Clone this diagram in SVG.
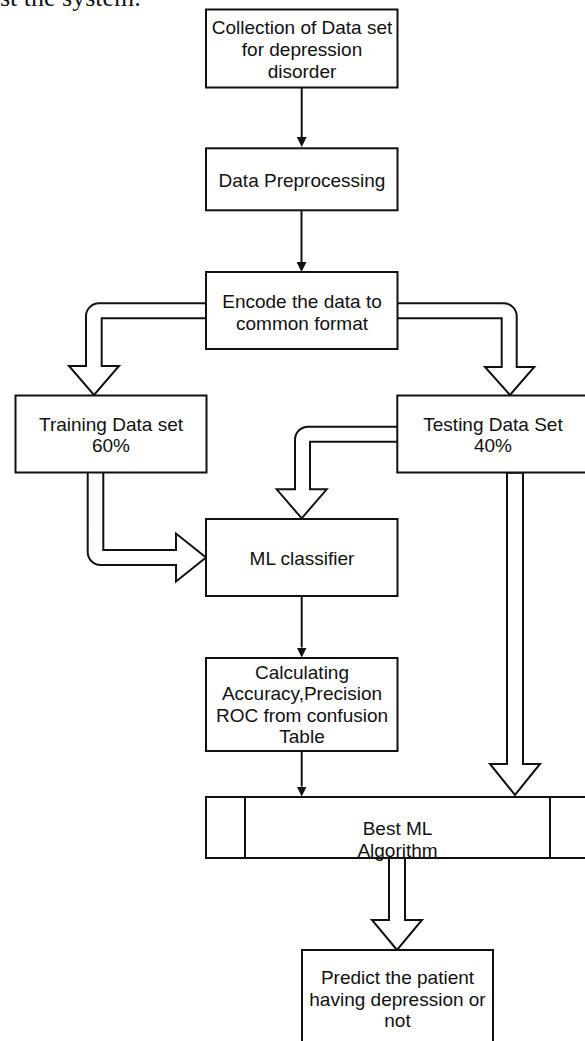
<svg xmlns="http://www.w3.org/2000/svg" width="585" height="1041" viewBox="0 0 585 1041">
<style>
.box{fill:#fff;stroke:#111;stroke-width:2}
.t{font-family:"Liberation Sans",Arial,sans-serif;font-size:19px;fill:#111;text-anchor:middle}
.thin{fill:none;stroke:#111;stroke-width:2}
.block{fill:#fff;stroke:#111;stroke-width:2;stroke-linejoin:miter}
</style>
<defs>
<marker id="ah" viewBox="0 0 10 10" refX="0" refY="5" markerWidth="10" markerHeight="10" markerUnits="userSpaceOnUse" orient="auto">
<path d="M0,0 L10,5 L0,10 z" fill="#111"/>
</marker>
</defs>
<rect width="585" height="1041" fill="#fff"/>
<text x="0" y="6" font-family="Liberation Serif,serif" font-size="26" fill="#111">st the system.</text>

<g id="connectors">
<path class="thin" d="M301.7,87.5 V137" marker-end="url(#ah)"/>
<path class="thin" d="M301.5,210.5 V262" marker-end="url(#ah)"/>
<path class="thin" d="M301.7,596 V647.5" marker-end="url(#ah)"/>
<path class="thin" d="M301.7,751 V786.5" marker-end="url(#ah)"/>
<path class="block" d="M206,303.3 H99 A13,13 0 0 0 86,316.3 V366 H69 L94,395 L119,366 H101.7 V318.3 H206"/>
<path class="block" d="M397.3,303.3 H503.7 A13,13 0 0 1 516.7,316.3 V367 H534.3 L510,395 L485,367 H501.7 V318.3 H397.3"/>
<path class="block" d="M87.7,472.7 V552 A13,13 0 0 0 100.7,565 H176 V581.5 L206,557.5 L176,533.5 V550 H103.3 V472.7"/>
<path class="block" d="M397.3,426.7 H308 A13,13 0 0 0 295,439.7 V489.3 H276.7 L301.7,518.3 L326.7,489.3 H310 V441.7 H397.3"/>
<path class="block" d="M507,472.7 V764 H490 L515,795 L540,764 H523 V472.7 Z"/>
<path class="block" d="M389,858 V920 H372 L397,950 L422,920 H405 V858"/>
</g>

<g id="n1">
<rect class="box" x="206" y="9.5" width="191.5" height="78"/>
<text class="t" x="302" y="33.5">Collection of Data set</text>
<text class="t" x="302" y="55.5">for depression</text>
<text class="t" x="302" y="77.5">disorder</text>
</g>
<g id="n2">
<rect class="box" x="206" y="148.3" width="191.5" height="62"/>
<text class="t" x="302" y="187">Data Preprocessing</text>
</g>
<g id="n3">
<rect class="box" x="206" y="272" width="191.5" height="77"/>
<text class="t" x="302" y="307.5">Encode the data to</text>
<text class="t" x="302" y="329.5">common format</text>
</g>
<g id="n4">
<rect class="box" x="15.5" y="395.5" width="191" height="77"/>
<text class="t" x="111" y="430.5">Training Data set</text>
<text class="t" x="111" y="452">60%</text>
</g>
<g id="n5">
<rect class="box" x="397.3" y="395.5" width="192" height="77"/>
<text class="t" x="493" y="430.5">Testing Data Set</text>
<text class="t" x="493" y="452">40%</text>
</g>
<g id="n6">
<rect class="box" x="206" y="519" width="191.5" height="77"/>
<text class="t" x="302" y="564.5">ML classifier</text>
</g>
<g id="n7">
<rect class="box" x="206" y="658" width="191.5" height="93"/>
<text class="t" x="302" y="678.5">Calculating</text>
<text class="t" x="302" y="700">Accuracy,Precision</text>
<text class="t" x="302" y="721.5">ROC from confusion</text>
<text class="t" x="302" y="743">Table</text>
</g>
<g id="n8">
<rect class="box" x="206" y="797" width="383" height="61"/>
<line class="thin" x1="245" y1="797" x2="245" y2="858"/>
<line class="thin" x1="550" y1="797" x2="550" y2="858"/>
<text class="t" x="397.5" y="834.5">Best ML</text>
<text class="t" x="397.5" y="857">Algorithm</text>
</g>
<g id="n9">
<rect class="box" x="302" y="950" width="191" height="100"/>
<text class="t" x="397.5" y="983.5">Predict the patient</text>
<text class="t" x="397.5" y="1005.5">having depression or</text>
<text class="t" x="397.5" y="1027">not</text>
</g>
</svg>
